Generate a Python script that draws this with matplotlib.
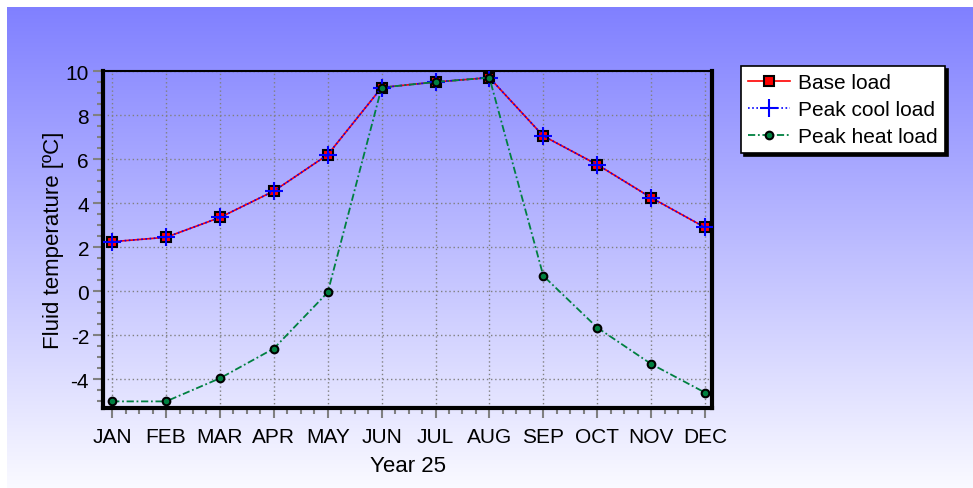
import numpy as np
import matplotlib.pyplot as plt
from matplotlib.ticker import MultipleLocator

# donnees
mois = ["JAN", "FEB", "MAR", "APR", "MAY", "JUN", "JUL", "AUG", "SEP", "OCT", "NOV", "DEC"]
base_load = [2.25, 2.45, 3.35, 4.55, 6.2, 9.25, 9.5, 9.7, 7.05, 5.75, 4.25, 2.9]
peak_cool = [2.25, 2.45, 3.35, 4.55, 6.2, 9.25, 9.5, 9.7, 7.05, 5.75, 4.25, 2.9]
peak_heat = [-5.0, -5.0, -3.95, -2.6, -0.05, 9.25, 9.5, 9.7, 0.7, -1.65, -3.3, -4.6]

plt.rcParams['font.family'] = ['Liberation Sans', 'DejaVu Sans']
plt.rcParams['axes.unicode_minus'] = False

W, H = 973, 489
fig = plt.figure(figsize=(W / 100, H / 100), dpi=100)
fig.patch.set_facecolor("white")

# fond degrade bleu -> blanc, pose au pixel pres
gh, gw = H - 8, W - 7
t = np.linspace(0, 1, gh)[:, None, None]
haut = np.array([128, 128, 255]) / 255
bas = np.array([250, 250, 255]) / 255
grad = haut * (1 - t) + bas * t
grad = np.repeat(grad, gw, axis=1)
fig.figimage(grad, xo=7, yo=0, origin="upper", zorder=0)

x0, x1, y0, y1 = 103, 712, 72, 409
ax = fig.add_axes([x0 / W, 1 - y1 / H, (x1 - x0) / W, (y1 - y0) / H], zorder=1)
ax.patch.set_alpha(0)

x = np.arange(len(mois))
ax.plot(x, base_load, color="red", lw=1.2, marker="s", ms=6.5, mfc="red", mec="black",
        mew=1.5, label="Base load", zorder=3)
ax.plot(x, peak_cool, color="blue", lw=1.2, ls=(0, (1, 1.5)), marker="+", ms=13, mew=1.5,
        label="Peak cool load", zorder=4)
ax.plot(x, peak_heat, color="#008040", lw=1.3, ls=(0, (4, 1.5, 1, 1.5)), marker="o", ms=5.5,
        mfc="#008040", mec="black", mew=1.5, label="Peak heat load", zorder=5)

ax.set_xlim(-0.17, 11.13)
ax.set_ylim(-5.3, 10)
ax.set_xticks(x)
ax.set_xticklabels(mois)
ax.set_yticks(np.arange(-4, 11, 2))
ax.xaxis.set_minor_locator(MultipleLocator(0.25))
ax.yaxis.set_minor_locator(MultipleLocator(0.5))
ax.tick_params(which="major", direction="out", length=7, width=1.5, color="gray",
               labelsize=15)
ax.tick_params(axis="x", which="major", pad=7)
ax.tick_params(axis="y", which="major", pad=3)
ax.tick_params(which="minor", direction="out", length=4, width=1.5, color="gray")
ax.grid(True, which="major", color="gray", ls=(0, (1, 2)), lw=1)

for s in ["left", "bottom", "right"]:
    ax.spines[s].set_linewidth(3)
ax.spines["top"].set_linewidth(1.5)

ax.set_xlabel("Year 25", fontsize=16, labelpad=6)
ax.set_ylabel("Fluid temperature [ºC]", fontsize=16, labelpad=1)

leg = ax.legend(loc="upper left", bbox_to_anchor=(741 / W, 1 - 67 / H), bbox_transform=fig.transFigure,
                fontsize=15, frameon=True, fancybox=False, shadow={"color": "black", "alpha": 1},
                borderpad=0.35, handlelength=2.0, handletextpad=0.4, labelspacing=0.38,
                borderaxespad=0)
leg.get_frame().set_edgecolor("black")
leg.get_frame().set_linewidth(1.2)
leg.get_frame().set_facecolor("white")

fig.savefig("out.png", dpi=100)
